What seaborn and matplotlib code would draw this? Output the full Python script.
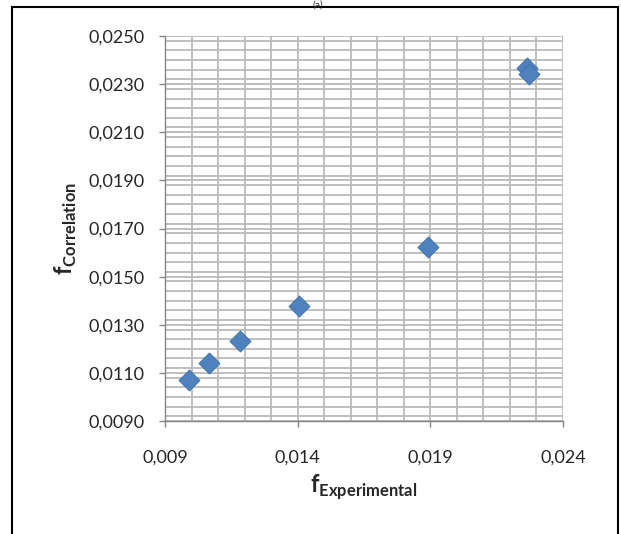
import numpy as np
import pandas as pd
import matplotlib
matplotlib.use("Agg")
import matplotlib.pyplot as plt
import matplotlib.ticker as mticker
import seaborn as sns
from matplotlib.patches import Rectangle

# valores
f_experimental = [0.00990, 0.01064, 0.01184, 0.01404, 0.01890, 0.02265, 0.02272]
f_correlation = [0.01072, 0.01142, 0.01232, 0.01380, 0.01625, 0.02365, 0.02343]

x_ticks = [0.009, 0.014, 0.019, 0.024]
y_ticks = [0.009, 0.011, 0.013, 0.015, 0.017, 0.019, 0.021, 0.023, 0.025]

sns.set_style("white")
plt.rcParams['font.family'] = ['Lato', 'DejaVu Sans']
plt.rcParams['mathtext.fontset'] = 'custom'
plt.rcParams['mathtext.bf'] = 'Lato:bold'
plt.rcParams['mathtext.rm'] = 'Lato'

df = pd.DataFrame({'fexp': f_experimental, 'fcor': f_correlation})

fig = plt.figure(figsize=(6.21, 5.34), dpi=100)
ax = fig.add_axes([165 / 621, 1 - 421 / 534, 398 / 621, 385 / 534])

sns.scatterplot(data=df, x='fexp', y='fcor', marker='D', s=115,
                color='#4F81BD', edgecolor='#3C6EA8', linewidth=0.6, ax=ax, zorder=3)

ax.set_xlim(0.009, 0.024)
ax.set_ylim(0.009, 0.025)
ax.set_xticks(x_ticks)
ax.set_yticks(y_ticks)
ax.set_xticklabels([f"{v:.3f}".replace('.', ',') for v in x_ticks])
ax.set_yticklabels([f"{v:.4f}".replace('.', ',') for v in y_ticks])
ax.xaxis.set_minor_locator(mticker.MultipleLocator(0.001))
ax.yaxis.set_minor_locator(mticker.MultipleLocator(0.0004))

ax.grid(True, which='both', color='#BABABA', linewidth=1.3, zorder=0)
ax.set_axisbelow(True)
ax.tick_params(axis='both', which='major', direction='out', length=4.5, width=1,
               color='#868686', labelsize=13, left=True, bottom=True)
ax.tick_params(axis='x', which='major', pad=16)
ax.tick_params(axis='y', which='major', pad=10)
ax.tick_params(axis='both', which='minor', length=0)

for side in ['left', 'bottom']:
    ax.spines[side].set_color('#868686')
    ax.spines[side].set_linewidth(1)
for side in ['top', 'right']:
    ax.spines[side].set_visible(False)

ax.set_xlabel(r'$\mathbf{f}_{\mathbf{Experimental}}$', fontsize=17, labelpad=5)
ax.set_ylabel(r'$\mathbf{f}_{\mathbf{Correlation}}$', fontsize=17, labelpad=7)

# moldura do gráfico
fig.patches.append(Rectangle((12 / 621, -0.02), 606 / 621, 1 - 7 / 534 + 0.02,
                             transform=fig.transFigure, fill=False,
                             edgecolor='black', linewidth=1.5))
fig.text(0.512, 0.999, '(a)', ha='center', va='top', fontsize=7.5)

fig.savefig('out.png', dpi=100)
